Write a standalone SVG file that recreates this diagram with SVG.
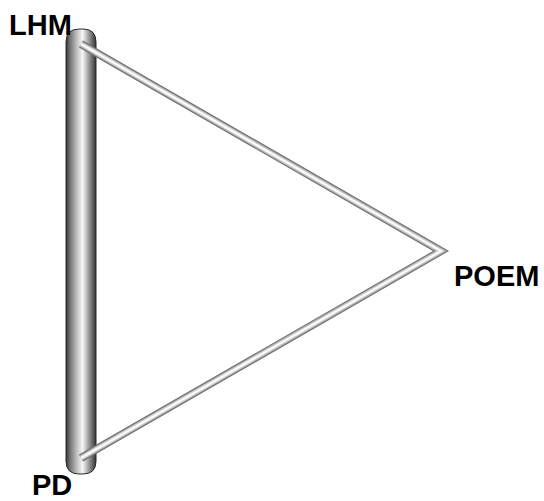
<svg xmlns="http://www.w3.org/2000/svg" width="544" height="501" viewBox="0 0 544 501">
<style>
text{font-family:"Liberation Sans",Arial,sans-serif;font-weight:bold;font-size:29px;fill:#000}
.t1{fill:none;stroke:#6e6e6e;stroke-width:8;stroke-linejoin:miter}
.t2{fill:none;stroke:#a8a8a8;stroke-width:6;stroke-linejoin:miter}
.t3{fill:none;stroke:#d8d8d8;stroke-width:4;stroke-linejoin:miter}
.t4{fill:none;stroke:#ffffff;stroke-width:1.8;stroke-linejoin:miter}
</style>
<defs>
<linearGradient id="tube" x1="0" y1="0" x2="1" y2="0">
<stop offset="0" stop-color="#333333"/>
<stop offset="0.12" stop-color="#6e6e6e"/>
<stop offset="0.35" stop-color="#bdbdbd"/>
<stop offset="0.55" stop-color="#f6f6f6"/>
<stop offset="0.8" stop-color="#8a8a8a"/>
<stop offset="1" stop-color="#333333"/>
</linearGradient>
</defs>
<g id="bar">
<path d="M66,42 Q66,29 79,29 L83,29 Q96,29 96,42 L96,461 Q96,474 83,474 L79,474 Q66,474 66,461 Z" fill="url(#tube)" stroke="#2a2a2a" stroke-width="1"/>
</g>
<g id="connectors">
<polyline class="t1" points="81,44 441,251 81,458"/>
<polyline class="t2" points="81,44 441,251 81,458"/>
<polyline class="t3" points="81,44 441,251 81,458"/>
<polyline class="t4" points="81,44 441,251 81,458"/>
</g>
<g id="LHM"><text x="9" y="35">LHM</text></g>
<g id="PD"><text x="32" y="495">PD</text></g>
<g id="POEM"><text x="454" y="286">POEM</text></g>
</svg>
